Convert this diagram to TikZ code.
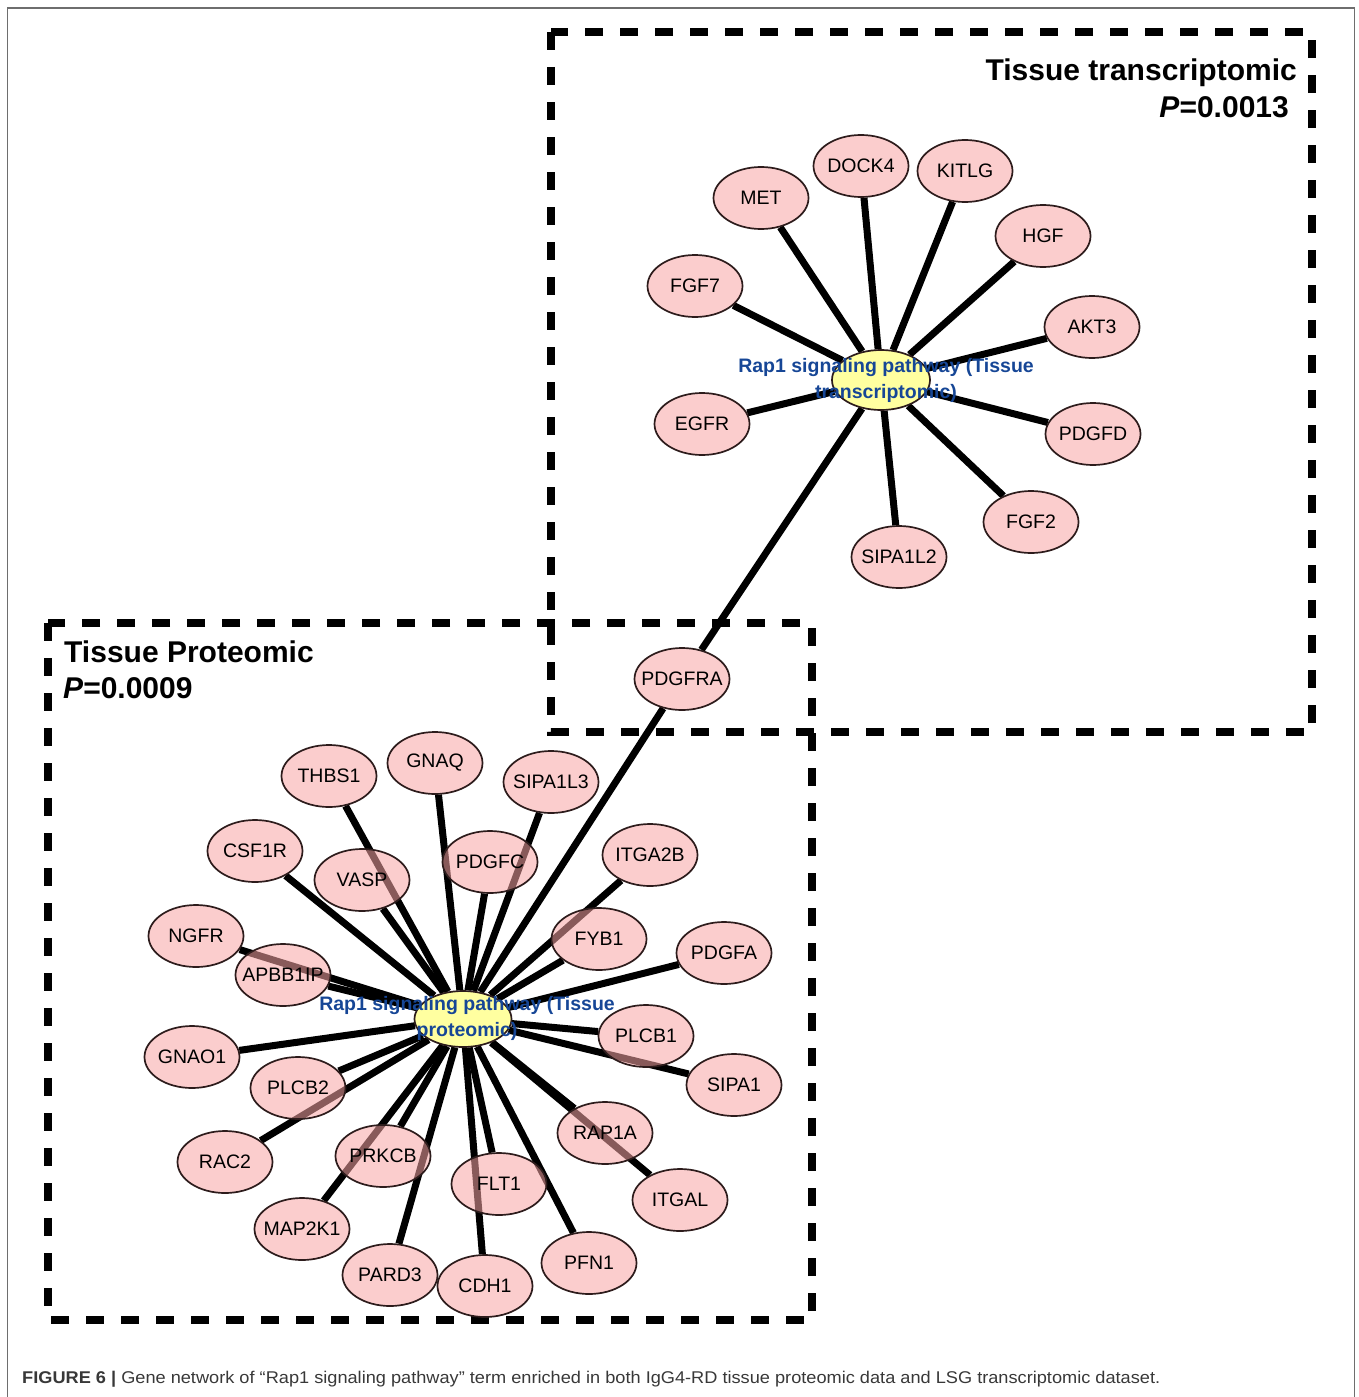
\documentclass[tikz,border=0pt]{standalone}
\usepackage{fontspec}
\setmainfont{Liberation Sans}
\usepackage{graphicx}
\usetikzlibrary{shapes.geometric}
\pgfdeclarelayer{background}
\pgfsetlayers{background,main}
\definecolor{genepink}{RGB}{248,164,164}
\definecolor{hubyellow}{RGB}{255,255,160}
\definecolor{hubblue}{RGB}{22,70,150}
\definecolor{nodeedge}{RGB}{45,28,28}
\definecolor{framegray}{RGB}{110,110,110}
\newcommand{\gname}[1]{\makebox[0pt]{#1}}

\begin{document}
\begin{tikzpicture}[
	x=1pt, y=-1pt,
	gene/.style={ellipse, draw=nodeedge, line width=1.7pt, fill=genepink, fill opacity=0.55, text opacity=1,
		minimum width=95pt, minimum height=62pt, inner sep=0pt, font=\fontsize{19.5}{22}\selectfont},
	hub/.style={ellipse, draw=nodeedge, line width=1.7pt, fill=hubyellow, inner sep=0pt},
	hubtext/.style={text=hubblue, font=\fontsize{19.5}{26}\selectfont\bfseries, align=center, inner sep=0pt},
	link/.style={line width=7pt},
	dashbox/.style={line width=8pt, dash pattern=on 18pt off 17pt},
	title/.style={font=\fontsize{30}{36}\selectfont\bfseries, inner sep=0pt},
]
	\useasboundingbox (0,0) rectangle (1358,1397);
	\draw[framegray, line width=1.6pt] (7.5,1397) -- (7.5,8) -- (1354.5,8) -- (1354.5,1397);

	% transcriptomic network
	\node[hub, minimum width=98pt, minimum height=60pt,
		label={[hubtext, xshift=5pt]center:{Rap1 signaling pathway (Tissue\\transcriptomic)}}] (trhub) at (881,380) {};
	\node[gene] (met) at (761,198) {\gname{MET}};
	\node[gene] (dock4) at (861,166) {\gname{DOCK4}};
	\node[gene] (kitlg) at (965,171) {\gname{KITLG}};
	\node[gene] (hgf) at (1043,236) {\gname{HGF}};
	\node[gene] (fgf7) at (695,286) {\gname{FGF7}};
	\node[gene] (akt3) at (1092,327) {\gname{AKT3}};
	\node[gene] (egfr) at (702,424) {\gname{EGFR}};
	\node[gene] (pdgfd) at (1093,434) {\gname{PDGFD}};
	\node[gene] (fgf2) at (1031,522) {\gname{FGF2}};
	\node[gene] (sipa1l2) at (899,557) {\gname{SIPA1L2}};
	\node[gene] (pdgfra) at (682,679) {\gname{PDGFRA}};

	% proteomic network
	\node[hub, minimum width=97pt, minimum height=56pt,
		label={[hubtext, xshift=4pt, yshift=1pt]center:{Rap1 signaling pathway (Tissue\\proteomic)}}] (prhub) at (463,1019) {};
	\node[gene] (thbs1) at (329,776) {\gname{THBS1}};
	\node[gene] (gnaq) at (435,763) {\gname{GNAQ}};
	\node[gene] (sipa1l3) at (551,782) {\gname{SIPA1L3}};
	\node[gene] (csf1r) at (255,851) {\gname{CSF1R}};
	\node[gene] (vasp) at (362,880) {\gname{VASP}};
	\node[gene] (pdgfc) at (490,862) {\gname{PDGFC}};
	\node[gene] (itga2b) at (650,855) {\gname{ITGA2B}};
	\node[gene] (ngfr) at (196,936) {\gname{NGFR}};
	\node[gene] (apbb1ip) at (283,975) {\gname{APBB1IP}};
	\node[gene] (fyb1) at (599,939) {\gname{FYB1}};
	\node[gene] (pdgfa) at (724,953) {\gname{PDGFA}};
	\node[gene] (gnao1) at (192,1057) {\gname{GNAO1}};
	\node[gene] (plcb1) at (646,1036) {\gname{PLCB1}};
	\node[gene] (plcb2) at (298,1088) {\gname{PLCB2}};
	\node[gene] (sipa1) at (734,1085) {\gname{SIPA1}};
	\node[gene] (rac2) at (225,1162) {\gname{RAC2}};
	\node[gene] (prkcb) at (383,1156) {\gname{PRKCB}};
	\node[gene] (rap1a) at (605,1133) {\gname{RAP1A}};
	\node[gene] (flt1) at (499,1184) {\gname{FLT1}};
	\node[gene] (itgal) at (680,1200) {\gname{ITGAL}};
	\node[gene] (map2k1) at (302,1229) {\gname{MAP2K1}};
	\node[gene] (pard3) at (390,1275) {\gname{PARD3}};
	\node[gene] (cdh1) at (485,1286) {\gname{CDH1}};
	\node[gene] (pfn1) at (589,1263) {\gname{PFN1}};

	% titles
	\node[title, anchor=base east] (trtitle) at (1297,81) {Tissue transcriptomic};
	\node[title, anchor=base east] (trp) at (1289,117) {\textit{P}=0.0013};
	\node[title, anchor=base west] (prtitle) at (64,662) {Tissue Proteomic};
	\node[title, anchor=base west] (prp) at (63,698) {\textit{P}=0.0009};

	\node[anchor=base west, inner sep=0pt, text=black!78] (caption) at (22,1383)
		{\resizebox{1138pt}{\height}{\fontsize{17}{20}\selectfont\textbf{FIGURE 6 |} Gene network of “Rap1 signaling pathway” term enriched in both IgG4-RD tissue proteomic data and LSG transcriptomic dataset.}};

	\begin{pgfonlayer}{background}
		\draw[dashbox] (551,32) rectangle (1312,732);
		\draw[dashbox] (48,623) rectangle (812,1320);
		\foreach \g in {met,dock4,kitlg,hgf,fgf7,akt3,egfr,pdgfd,fgf2,sipa1l2,pdgfra}
			\draw[link] (trhub) -- (\g);
		\foreach \g in {pdgfra,thbs1,gnaq,sipa1l3,csf1r,vasp,pdgfc,itga2b,ngfr,apbb1ip,fyb1,pdgfa,gnao1,plcb1,plcb2,sipa1,rac2,prkcb,rap1a,flt1,itgal,map2k1,pard3,cdh1,pfn1}
			\draw[link] (prhub) -- (\g);
	\end{pgfonlayer}
\end{tikzpicture}
\end{document}
